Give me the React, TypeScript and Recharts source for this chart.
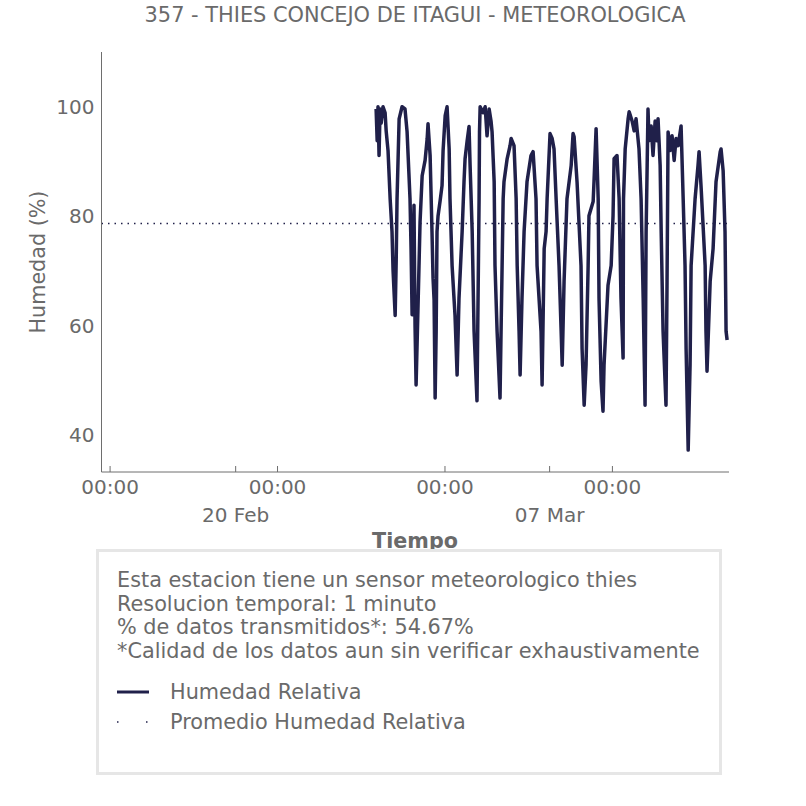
import { Line, LineChart, ReferenceLine, XAxis, YAxis } from "recharts";

const FONT = "'DejaVu Sans', sans-serif";
const TEXT = "#6a6a6a";
const AXIS_COLOR = "#6e6e6e";
const NAVY = "#20204a";

// time in days since 14 Feb 00:00, humidity in %
const dayOffsets = [
  12.71, 12.76, 12.8, 12.85, 12.9, 12.95, 13.04, 13.14, 13.19, 13.28, 13.38, 13.47, 13.52, 13.62, 13.67, 13.71,
  13.76, 13.81, 13.95, 14.09, 14.19, 14.33, 14.38, 14.43, 14.52, 14.57, 14.62, 14.72, 14.81, 14.91, 15.05, 15.15,
  15.19, 15.29, 15.38, 15.43, 15.48, 15.53, 15.58, 15.62, 15.67, 15.77, 15.86, 15.91, 16.01, 16.1, 16.2, 16.24,
  16.34, 16.48, 16.58, 16.67, 16.82, 16.91, 16.96, 17.06, 17.15, 17.2, 17.3, 17.39, 17.53, 17.63, 17.65, 17.68,
  17.82, 17.92, 18.01, 18.11, 18.2, 18.25, 18.35, 18.39, 18.49, 18.63, 18.68, 18.73, 18.78, 18.82, 18.97, 19.11,
  19.16, 19.3, 19.4, 19.45, 19.54, 19.59, 19.68, 19.78, 19.92, 20.11, 20.21, 20.35, 20.4, 20.59, 20.64, 20.74,
  20.83, 20.88, 21.02, 21.12, 21.21, 21.31, 21.45, 21.55, 21.6, 21.69, 21.83, 22.03, 22.12, 22.17, 22.31, 22.5,
  22.55, 22.65, 22.74, 22.84, 22.88, 23.08, 23.12, 23.22, 23.32, 23.36, 23.46, 23.55, 23.6, 23.79, 23.94, 24.03,
  24.08, 24.22, 24.32, 24.41, 24.51, 24.53, 24.61, 24.75, 24.8, 24.94, 25.04, 25.13, 25.27, 25.37, 25.47, 25.56,
  25.61, 25.66, 25.7, 25.75, 25.85, 25.94, 26.04, 26.13, 26.18, 26.28, 26.33, 26.42, 26.56, 26.61, 26.66, 26.76,
  26.85, 26.95, 27.04, 27.14, 27.28, 27.38, 27.47, 27.52, 27.62, 27.71, 27.76, 27.95, 28.09, 28.14, 28.24, 28.43,
  28.47, 28.52, 28.67, 28.81, 28.95, 29.15, 29.19, 29.29, 29.38, 29.43, 29.48,
];
const humidity = [
  99.6, 93.8, 100, 91.1, 99.6, 97, 100, 98.9, 95.6, 92, 83.2, 77.2, 70.1, 61.9, 72, 83.2,
  90.5, 97.8, 100, 99.6, 95.4, 83.2, 74, 62, 82, 60, 49.2, 64.7, 79, 87.4, 90.2, 94.2,
  96.9, 91.1, 77.2, 68.7, 64.7, 46.8, 59.2, 77.2, 80.1, 82.9, 85.6, 92, 98.4, 100, 92.3, 83.2,
  71, 61.9, 51, 65, 77.2, 86.3, 90.5, 93.8, 96.4, 89.3, 77.2, 59, 46.3, 83.2, 95.4, 100,
  98.9, 100, 94.7, 99.6, 97.4, 95.4, 86.3, 71, 59, 46.8, 59, 71, 83.2, 86.3, 90.5, 92.9,
  94.2, 92.9, 83.2, 71, 59, 51, 65, 77.2, 86.3, 91.1, 91.8, 83.2, 71, 59, 49.2, 74.1,
  77.2, 83.2, 95.1, 94.2, 92.3, 83.2, 71, 59, 52.8, 68.1, 83.2, 89.3, 95.1, 94.5, 86.3, 71,
  55.9, 45.5, 52.8, 71, 80.1, 82.7, 86.3, 96, 83.2, 65, 49.9, 44.4, 52.8, 67.4, 71, 80.1,
  90.5, 91.1, 83.2, 65, 54.1, 83.2, 92.3, 97.8, 99.1, 97.4, 95.6, 97.8, 92.3, 83.2, 65, 45.5,
  77.2, 89.3, 99.6, 93.8, 96.5, 91.1, 97.4, 93.8, 97.8, 89.3, 77.2, 59, 45.5, 68.1, 95.4, 92,
  94.7, 90.2, 94.2, 92.9, 96.5, 83.2, 71, 55.9, 37.3, 52.8, 71, 83.2, 89.3, 91.8, 85.1, 71,
  59, 51.7, 68.1, 74.1, 86.3, 91.8, 92.3, 88.3, 77.2, 59, 57.4,
];
const meanHumidity = 78.7;

const yTicks = [40, 60, 80, 100];
const timeTicks = [0, 8, 16, 24];
const timeLabel = "00:00";
const dateTicks = [6, 21];
const dateLabels = ["20 Feb", "07 Mar"];

const infoLines = [
  "Esta estacion tiene un sensor meteorologico thies",
  "Resolucion temporal: 1 minuto",
  "% de datos transmitidos*: 54.67%",
  "*Calidad de los datos aun sin verificar exhaustivamente",
];
const seriesNames = ["Humedad Relativa", "Promedio Humedad Relativa"];

const data = dayOffsets.map((d, i) => ({ d, h: humidity[i] }));

function XTick({ x, y, payload }: any) {
  const v = payload.value;
  const di = dateTicks.indexOf(v);
  return (
    <g>
      <line x1={x} x2={x} y1={y} y2={y - 6} stroke={AXIS_COLOR} strokeWidth={1} />
      {di >= 0 ? (
        <text x={x} y={y + 50} textAnchor="middle" fill={TEXT} fontSize={20} fontFamily={FONT}>
          {dateLabels[di]}
        </text>
      ) : (
        <text x={x} y={y + 22} textAnchor="middle" fill={TEXT} fontSize={20} fontFamily={FONT}>
          {timeLabel}
        </text>
      )}
    </g>
  );
}

function YTick({ x, y, payload }: any) {
  return (
    <text x={x - 7} y={y + 7} textAnchor="end" fill={TEXT} fontSize={20} fontFamily={FONT}>
      {payload.value}
    </text>
  );
}

function AxisTitle({ tx, ty, text, rotate, bold }: any) {
  return (
    <text
      x={tx}
      y={ty}
      textAnchor="middle"
      fill={TEXT}
      fontSize={20.7}
      fontWeight={bold ? "bold" : "normal"}
      fontFamily={FONT}
      transform={rotate ? `rotate(-90 ${tx} ${ty})` : undefined}
    >
      {text}
    </text>
  );
}

export default function App() {
  return (
    <div style={{ position: "absolute", left: 0, top: 0, width: 806, height: 806, background: "#fff" }}>
      <LineChart width={806} height={806} data={data} margin={{ top: 52, right: 77, bottom: 0, left: 0 }}>
        <XAxis
          dataKey="d"
          type="number"
          domain={[-0.41, 29.57]}
          allowDataOverflow
          ticks={[...timeTicks, ...dateTicks].sort((a, b) => a - b)}
          interval={0}
          tickLine={false}
          tickSize={0}
          tickMargin={0}
          height={334}
          tick={<XTick />}
          stroke={AXIS_COLOR}
          label={<AxisTitle tx={415} ty={548} text="Tiempo" bold />}
        />
        <YAxis
          type="number"
          domain={[33.3, 110]}
          allowDataOverflow
          ticks={yTicks}
          interval={0}
          tickLine={false}
          tickSize={0}
          tickMargin={0}
          width={101.5}
          tick={<YTick />}
          stroke={AXIS_COLOR}
          label={<AxisTitle tx={45} ty={262} text="Humedad (%)" rotate />}
        />
        <ReferenceLine y={meanHumidity} stroke={NAVY} strokeWidth={1.5} strokeDasharray="1.5 5" />
        <Line
          type="linear"
          dataKey="h"
          stroke={NAVY}
          strokeWidth={3.5}
          strokeLinejoin="round"
          dot={false}
          isAnimationActive={false}
        />
      </LineChart>
      <svg
        width={806}
        height={806}
        style={{ position: "absolute", left: 0, top: 0, pointerEvents: "none" }}
        fontFamily={FONT}
      >
        <text x={415} y={22} textAnchor="middle" fill={TEXT} fontSize={20.9}>
          357 - THIES CONCEJO DE ITAGUI - METEOROLOGICA
        </text>
        <rect x={97.5} y={550.5} width={623} height={223} fill="#fff" stroke="#e6e6e6" strokeWidth={3} />
        {infoLines.map((t, i) => (
          <text key={t} x={117} y={587 + i * 23.5} fill={TEXT} fontSize={20.8}>
            {t}
          </text>
        ))}
        <line x1={117} x2={149} y1={692} y2={692} stroke={NAVY} strokeWidth={3} />
        <text x={170} y={699} fill={TEXT} fontSize={20.8}>
          {seriesNames[0]}
        </text>
        <line x1={117} x2={149} y1={722} y2={722} stroke={NAVY} strokeWidth={1.5} strokeDasharray="1.5 27.5" />
        <text x={170} y={729} fill={TEXT} fontSize={20.8}>
          {seriesNames[1]}
        </text>
      </svg>
    </div>
  );
}
